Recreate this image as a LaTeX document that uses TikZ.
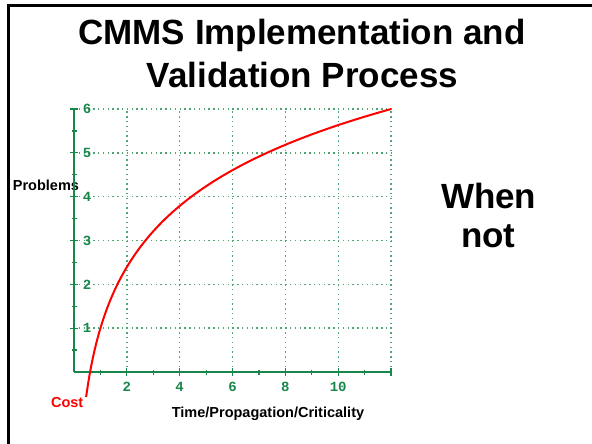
\documentclass[tikz,border=0pt]{standalone}
\usepackage{fontspec}
\setmainfont{Liberation Sans}
\newfontfamily\tickfont{Liberation Mono}
\definecolor{axisgreen}{RGB}{25,135,75}
\definecolor{gridgreen}{RGB}{80,165,115}
\definecolor{curvered}{RGB}{255,0,0}
\begin{document}
\begin{tikzpicture}[x=1pt,y=-1pt,
  txt/.style={inner sep=0pt, font=\bfseries},
  titletxt/.style={txt, font=\bfseries\fontsize{35}{40}\selectfont, anchor=base},
  axtxt/.style={txt, font=\bfseries\fontsize{14.5}{16}\selectfont},
  ticklab/.style={inner sep=0pt, text=axisgreen, font=\tickfont\bfseries\fontsize{14}{14}\selectfont},
  gridline/.style={gridgreen, line width=1.4pt, dash pattern=on 1.4pt off 3.4pt},
  axisline/.style={axisgreen, line width=2pt},
  tickline/.style={axisgreen, line width=1.2pt},
  curveline/.style={curvered, line width=2pt}]
\useasboundingbox (0,0) rectangle (592,444);
% frame
\draw[line width=2.5pt] (8.5,444) -- (8.5,5.5) -- (592,5.5);
% title
\node[titletxt] (t1) at (302,44.3) {CMMS Implementation and};
\node[titletxt] (t2) at (302.5,88) {Validation Process};
\node[titletxt] (w1) at (488.7,208.3) {When};
\node[titletxt] (w2) at (488.3,247.3) {not};
% axis labels
\node[axtxt, anchor=base west] (prob) at (12.7,190) {Problems};
\node[axtxt, anchor=base east, text=curvered] (cost) at (83.5,407) {Cost};
\node[axtxt, anchor=base] (time) at (268,417.7) {Time/Propagation/Criticality};
% chart
\begin{scope}[shift={(74,372)}, x=26.42pt, y=43.83pt]
  \coordinate (o) at (0,0);
  \foreach \i in {2,4,...,12} \draw[gridline] (\i,0) -- (\i,6);
  \foreach \j in {1,...,6} \draw[gridline] (0,\j) -- (12,\j);
  \draw[axisline] (0,0) coordinate (xa) -- (12,0) coordinate (xb);
  \draw[axisline] (o) -- (0,6) coordinate (ya);
  \foreach \j in {1,...,6} \draw[tickline] ([xshift=-4pt]0,\j) -- ([xshift=4pt]0,\j);
  \foreach \j in {0.5,1.5,...,5.5} \draw[tickline] ([xshift=-2.5pt]0,\j) -- ([xshift=2.5pt]0,\j);
  \foreach \i in {2,4,...,12} \draw[tickline] ([yshift=-4pt]\i,0) -- ([yshift=4pt]\i,0);
  \foreach \i in {1,3,...,11} \draw[tickline] ([yshift=-2.5pt]\i,0) -- ([yshift=2.5pt]\i,0);
  \foreach \j in {1,...,6} \node[ticklab] (yl\j) at ([xshift=13pt]0,\j) {\j};
  \foreach \i in {2,4,...,10} \node[ticklab] (xl\i) at ([yshift=-15pt]\i,0) {\i};
  \draw[curveline] plot[domain=0.458:12, samples=150, smooth] (\x, {1+2.012*ln(\x)});
\end{scope}
\end{tikzpicture}
\end{document}
